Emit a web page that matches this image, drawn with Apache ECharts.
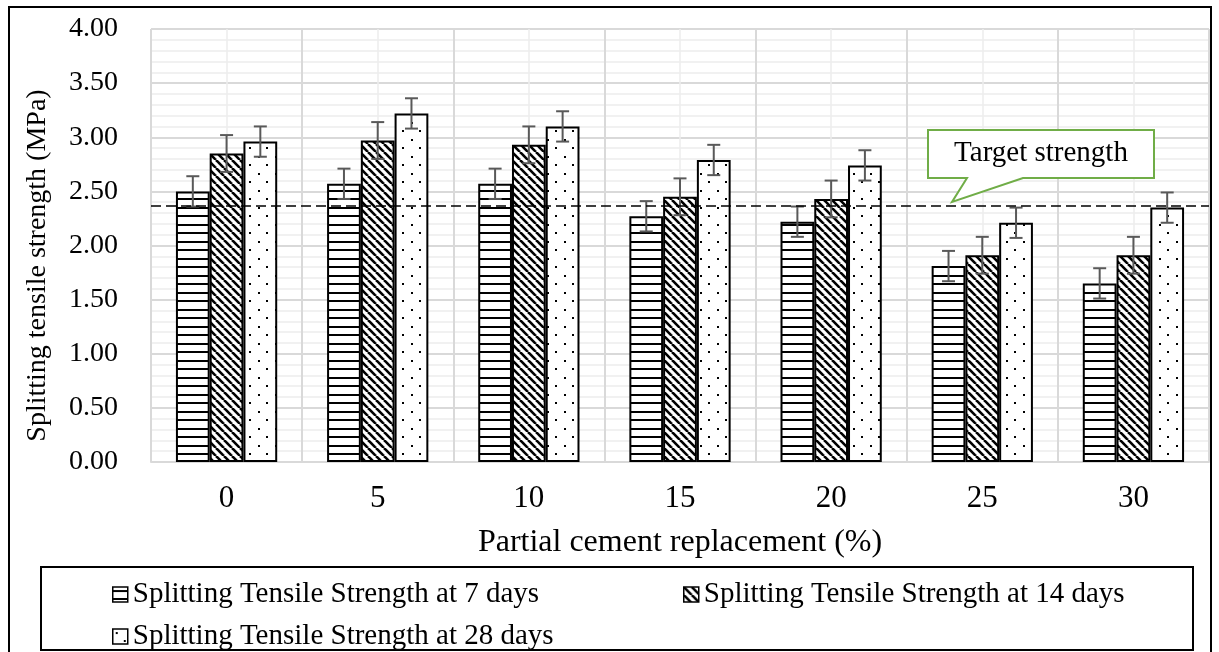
<!DOCTYPE html>
<html>
<head>
<meta charset="utf-8">
<script src="https://cdn.jsdelivr.net/npm/echarts@6/dist/echarts.min.js"></script>
<style>
  html, body { margin: 0; padding: 0; background: #fff; }
  #chart { width: 1219px; height: 652px; }
</style>
</head>
<body>
<div id="chart"></div>
<script>
const categories = ["0", "5", "10", "15", "20", "25", "30"];
const strength7 = [2.50, 2.57, 2.57, 2.27, 2.22, 1.81, 1.65];
const strength14 = [2.85, 2.97, 2.93, 2.45, 2.43, 1.91, 1.91];
const strength28 = [2.96, 3.22, 3.10, 2.79, 2.74, 2.21, 2.35];
const err7 = [0.14, 0.14, 0.14, 0.14, 0.14, 0.14, 0.14];
const err14 = [0.17, 0.17, 0.17, 0.17, 0.17, 0.17, 0.17];
const err28 = [0.14, 0.14, 0.14, 0.14, 0.14, 0.14, 0.14];
const targetStrength = 2.37;
const seriesNames = [
  "Splitting Tensile Strength at 7 days",
  "Splitting Tensile Strength at 14 days",
  "Splitting Tensile Strength at 28 days",
];

const FONT = "Liberation Serif";

// little canvas tiles for the hatch fills
const makeTile = (w, h, draw) => {
  const c = document.createElement("canvas");
  c.width = w;
  c.height = h;
  const ctx = c.getContext("2d");
  ctx.fillStyle = "#fff";
  ctx.fillRect(0, 0, w, h);
  ctx.fillStyle = "#000";
  ctx.strokeStyle = "#000";
  draw(ctx, w, h);
  return c;
};

const hLines = makeTile(4, 17, (ctx) => {
  ctx.fillRect(0, 3, 4, 2);
  ctx.fillRect(0, 11, 4, 2);
});
const diagLines = makeTile(8, 8, (ctx) => {
  ctx.lineWidth = 2.6;
  [-8, 0, 8].forEach((o) => {
    ctx.beginPath();
    ctx.moveTo(o, 0);
    ctx.lineTo(o + 8, 8);
    ctx.stroke();
  });
});
const dots = makeTile(17, 17, (ctx) => {
  ctx.fillRect(3, 3, 2, 2);
  ctx.fillRect(11, 11, 2, 2);
});

const barSeries = (name, values, tile, extra) =>
  Object.assign(
    {
      name: name,
      type: "bar",
      barGap: "0%",
      barCategoryGap: "33%",
      itemStyle: {
        color: { image: tile, repeat: "repeat" },
        borderColor: "#000",
        borderWidth: 2,
      },
      data: values,
    },
    extra || {}
  );

const errorSeries = (values, errs, k) => ({
  type: "custom",
  name: "err" + k,
  z: 5,
  silent: true,
  data: values.map((v, i) => [i, v, errs[i]]),
  renderItem: (params, api) => {
    const i = api.value(0);
    const v = api.value(1);
    const e = api.value(2);
    const band = api.size([1, 0])[0];
    const barW = (band * 0.67) / 3;
    const x = api.coord([i, v])[0] + (k - 1) * barW;
    const yt = api.coord([i, v + e])[1];
    const yb = api.coord([i, v - e])[1];
    const cap = 6.5;
    const st = { stroke: "#595959", lineWidth: 2 };
    return {
      type: "group",
      children: [
        { type: "line", shape: { x1: x, y1: yt, x2: x, y2: yb }, style: st },
        { type: "line", shape: { x1: x - cap, y1: yt, x2: x + cap, y2: yt }, style: st },
        { type: "line", shape: { x1: x - cap, y1: yb, x2: x + cap, y2: yb }, style: st },
      ],
    };
  },
});

const legendAt = (name, left, top) => ({
  data: [name],
  left: left,
  top: top,
  icon: "rect",
  itemWidth: 15,
  itemHeight: 15,
  itemStyle: { borderColor: "#000", borderWidth: 1.5 },
  textStyle: { fontFamily: FONT, fontSize: 29, color: "#000" },
  selectedMode: false,
});

const chart = echarts.init(document.getElementById("chart"));
const option = {
  backgroundColor: "#fff",
  animation: false,
  grid: { left: 151, right: 10, top: 29, bottom: 190 },
  legend: [
    legendAt(seriesNames[0], 107, 575),
    legendAt(seriesNames[1], 678, 575),
    legendAt(seriesNames[2], 107, 617),
  ],
  xAxis: [
    {
      type: "category",
      data: categories,
      name: "Partial cement replacement (%)",
      nameLocation: "middle",
      nameGap: 65,
      nameTextStyle: { fontFamily: FONT, fontSize: 32, color: "#000" },
      axisLine: { lineStyle: { color: "#d9d9d9", width: 2 } },
      axisTick: { show: false },
      axisLabel: { fontFamily: FONT, fontSize: 31, color: "#000", margin: 21 },
      splitLine: { show: false },
    },
    {
      // hidden value axis, only for the vertical grid lines
      type: "value",
      min: 0,
      max: 7,
      interval: 1,
      axisLine: { show: false },
      axisTick: { show: false },
      axisLabel: { show: false },
      splitLine: { show: true, lineStyle: { color: "#d9d9d9", width: 2 } },
      minorTick: { show: false, splitNumber: 2 },
      minorSplitLine: { show: true, lineStyle: { color: "#ededed", width: 1.5 } },
    },
  ],
  yAxis: {
    type: "value",
    min: 0,
    max: 4,
    interval: 0.5,
    name: "Splitting tensile strength (MPa)",
    nameLocation: "middle",
    nameGap: 99,
    nameTextStyle: {
      fontFamily: FONT,
      fontSize: 28,
      color: "#000",
      padding: [0, 40, 0, 0],
    },
    axisLine: { show: false },
    axisTick: { show: false },
    axisLabel: {
      fontFamily: FONT,
      fontSize: 28,
      color: "#000",
      margin: 33,
      formatter: (v) => v.toFixed(2),
    },
    splitLine: { lineStyle: { color: "#d9d9d9", width: 2 } },
    minorTick: { show: false, splitNumber: 5 },
    minorSplitLine: { show: true, lineStyle: { color: "#ededed", width: 1.5 } },
  },
  series: [
    barSeries(seriesNames[0], strength7, hLines, {
      markLine: {
        symbol: "none",
        silent: true,
        z: 6,
        label: { show: false },
        lineStyle: { color: "#000", type: [10, 5], width: 1.5 },
        data: [{ yAxis: targetStrength }],
      },
    }),
    barSeries(seriesNames[1], strength14, diagLines),
    barSeries(seriesNames[2], strength28, dots),
    errorSeries(strength7, err7, 0),
    errorSeries(strength14, err14, 1),
    errorSeries(strength28, err28, 2),
  ],
  graphic: [
    {
      type: "rect",
      z: 100,
      shape: { x: 9, y: 7, width: 1202, height: 700 },
      style: { fill: null, stroke: "#000", lineWidth: 2 },
    },
    {
      type: "rect",
      z: 100,
      shape: { x: 41, y: 567, width: 1152, height: 83 },
      style: { fill: null, stroke: "#000", lineWidth: 2 },
    },
    {
      type: "polygon",
      z: 100,
      shape: {
        points: [
          [928, 130], [1154, 130], [1154, 178], [1023, 178],
          [952, 202], [967, 178], [928, 178],
        ],
      },
      style: { fill: "#fff", stroke: "#70ad47", lineWidth: 2 },
    },
    {
      type: "text",
      z: 101,
      style: {
        text: "Target strength",
        x: 1041,
        y: 153,
        align: "center",
        verticalAlign: "middle",
        fontFamily: FONT,
        fontSize: 29,
        fill: "#000",
      },
    },
  ],
};
chart.setOption(option);
</script>
</body>
</html>
